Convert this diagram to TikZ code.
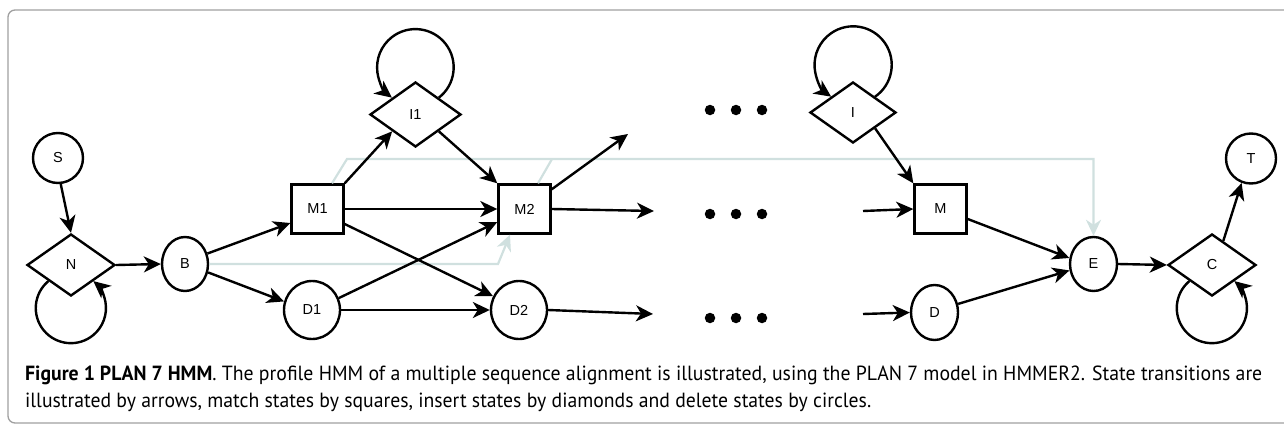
\documentclass[tikz,border=0pt]{standalone}
\usepackage{fontspec}
\setmainfont{Liberation Sans}
\newfontfamily\capfont{PT Sans}
\usepackage{graphicx}
\usetikzlibrary{shapes.geometric,arrows.meta,calc}

\definecolor{framegray}{RGB}{160,160,160}
\definecolor{skipline}{RGB}{208,224,223}

\begin{document}
\begin{tikzpicture}[x=1pt,y=-1pt,
  every node/.style={font=\fontsize{14.5}{16}\selectfont},
  state/.style={draw, line width=2.4pt, fill=white, inner sep=0pt},
  match/.style={state, rectangle, minimum width=52pt, minimum height=49pt},
  ins/.style={state, diamond, minimum width=88pt, minimum height=62pt},
  del/.style={state, ellipse},
  dotc/.style={circle, fill=black, inner sep=0pt, minimum size=10.5pt},
  tipk/.style={-{Stealth[length=17pt, width=16pt, inset=5pt]}},
  arr/.style={line width=2.4pt, tipk},
  skip/.style={line width=2.2pt, draw=skipline},
  skiparr/.style={skip, -{Stealth[length=16pt, width=15pt, inset=5pt, fill=skipline]}},
]
\useasboundingbox (0,0) rectangle (1284,428);

% outer frame
\begin{scope}
  \clip (0,0) rectangle (1284,428);
  \draw[framegray, line width=1.3pt, rounded corners=7pt] (8,10) rectangle (1300,423);
\end{scope}

% states
\node[del, circle, minimum size=50pt] (S) at (58,158) {S};
\node[ins] (N) at (71,265) {N};
\node[del, minimum width=46pt, minimum height=54pt] (B) at (185,264) {B};
\node[match] (M1) at (317.5,209) {M1};
\node[del, minimum width=56pt, minimum height=58pt] (D1) at (312,310) {D1};
\node[ins, minimum width=91pt, minimum height=65pt] (I1) at (415.5,114.5) {I1};
\node[match] (M2) at (524.5,209) {M2};
\node[del, minimum width=56pt, minimum height=58pt] (D2) at (519,310) {D2};
\node[ins, minimum width=86pt, minimum height=61pt] (I) at (853,112.5) {I};
\node[match] (M) at (940.5,209) {M};
\node[del, minimum width=47pt, minimum height=55pt] (D) at (934.5,312.5) {D};
\node[del, minimum width=47pt, minimum height=54pt] (E) at (1093.5,264) {E};
\node[ins] (C) at (1212,265) {C};
\node[del, circle, minimum size=50pt] (T) at (1251,158.5) {T};

% ellipsis dots
\foreach \r/\y in {a/110, b/214, c/318}{
  \node[dotc] (dot\r1) at (710,\y) {};
  \node[dotc] (dot\r2) at (736,\y) {};
  \node[dotc] (dot\r3) at (762,\y) {};
}

% open ends of the repeated middle section
\coordinate (o1) at (628,134);
\coordinate (o2) at (654,211);
\coordinate (o3) at (653,314);
\coordinate (i1) at (863,211);
\coordinate (i2) at (863,314);

% skip transitions (light)
\coordinate (gA) at (347,159);
\coordinate (gB) at (552,159);
\coordinate (gC) at (498,264);
\draw[skiparr] ([xshift=14.5pt]M1.north) -- (gA) -| (E.north);
\draw[skip] ([xshift=13.5pt]M2.north) -- (gB);
\draw[skiparr] (B.east) -- (gC) -- ([xshift=-14.5pt]M2.south);

% transitions
\draw[arr] (S.-84) -- (N.north);
\draw[arr] (N.east) -- (B.west);
\draw[arr] (B.25) -- ([yshift=-14pt]M1.west);
\draw[arr] (B.-20) -- (D1.163);
\draw[arr] (M1.north east) -- ($(I1.west)!0.5!(I1.south)$);
\draw[arr] (M1.east) -- (M2.west);
\draw[arr] ([yshift=-15pt]M1.east) -- (D2.152);
\draw[arr] (D1.24) -- ([yshift=-13pt]M2.west);
\draw[arr] (D1.east) -- (D2.west);
\draw[arr] ($(I1.east)!0.5!(I1.south)$) -- (M2.north west);
\draw[arr] ([yshift=-6pt]M2.north east) -- (o1);
\draw[arr] (M2.east) -- (o2);
\draw[arr] (D2.east) -- (o3);
\draw[arr] (i1) -- (M.west);
\draw[arr] (i2) -- (D.west);
\draw[arr] ($(I.east)!0.5!(I.south)$) -- (M.north west);
\draw[arr] ([yshift=-10pt]M.east) -- (E.166);
\draw[arr] (D.20) -- (E.195);
\draw[arr] (E.east) -- (C.west);
\draw[arr] ($(C.north)!0.25!(C.east)$) -- (T.-111);

% self loops on insert states
\draw[arr] ($(N.west)!0.5!(N.south)$) arc[start angle=230.2, end angle=-50.2, radius=35.1];
\draw[arr] ($(C.west)!0.5!(C.south)$) arc[start angle=230.2, end angle=-50.2, radius=35.1];
\draw[arr] ($(I1.east)!0.5!(I1.north)$) arc[start angle=52.2, end angle=-232.2, radius=38.3];
\draw[arr] ($(I.east)!0.5!(I.north)$) arc[start angle=55.3, end angle=-235.3, radius=38.6];

% caption
\node[anchor=base west, inner sep=0pt, font=\capfont\fontsize{20.5}{24}\selectfont] (cap1) at (25,380)
  {\resizebox{1237pt}{\height}{\textbf{Figure 1 PLAN 7 HMM}. The profile HMM of a multiple sequence alignment is illustrated, using the PLAN 7 model in HMMER2. State transitions are}};
\node[anchor=base west, inner sep=0pt, font=\capfont\fontsize{20.5}{24}\selectfont] (cap2) at (25,407)
  {\resizebox{846pt}{\height}{illustrated by arrows, match states by squares, insert states by diamonds and delete states by circles.}};
\end{tikzpicture}
\end{document}
